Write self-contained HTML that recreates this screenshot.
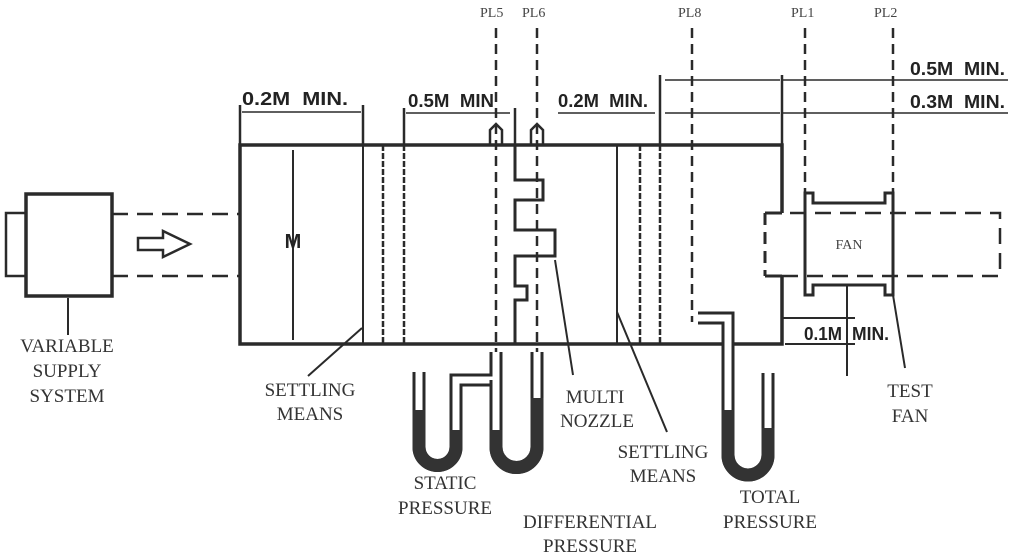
<!DOCTYPE html>
<html><head><meta charset="utf-8"><style>
html,body{margin:0;padding:0;background:#fff;}
svg{display:block;}
.d{font-family:"Liberation Sans",sans-serif;font-weight:bold;font-size:18px;fill:#222;}
.s{font-family:"Liberation Serif",serif;font-size:19px;fill:#333;}
.p{font-family:"Liberation Serif",serif;font-size:14px;fill:#444;}
</style></head><body>
<svg width="1013" height="556" viewBox="0 0 1013 556" xmlns="http://www.w3.org/2000/svg">
<g fill="none" stroke="#2a2a2a" stroke-width="3">
<rect x="26" y="194" width="86" height="102" stroke-width="3.5"/>
<path d="M26 213 H6 V276 H26" stroke-width="2.5"/>
<path d="M112 214 H240 M112 276 H240" stroke-dasharray="16 9" stroke-width="2.5"/>
<path d="M138 238 H163 V231 L190 244 L163 257 V250 H138 Z" stroke-width="2.5"/>
<path d="M68 298 L68 335" stroke-width="2"/>
<path d="M782 213 V145 H240 V344 H782 V276" stroke-width="3.5"/>
<path d="M782 213 H765 M782 276 H765" stroke-width="3"/>
<path d="M765 213 V276" stroke-dasharray="12 7"/>
<path d="M765 213 H1000 V276 H765" stroke-dasharray="16 9" stroke-width="2.5"/>
<path d="M293 150 V340" stroke-width="2"/>
<path d="M363 145 V344" stroke-width="2"/>
<path d="M383 145 V344 M404 145 V344" stroke-dasharray="6 2" stroke-width="2.5"/>
<path d="M617 145 V344" stroke-width="2"/>
<path d="M640 145 V344 M660 145 V344" stroke-dasharray="6 2" stroke-width="2.5"/>
<path d="M240 105 V145 M363 105 V145 M404 108 V145 M515 108 V145 M660 75 V145 M782 75 V145" stroke-width="2.5"/>
<path d="M242 112 H361 M406 113 H510 M558 113 H655 M665 113 H780 M665 80 H780 M782 80 H1008 M782 113 H1008" stroke-width="1.5"/>
<path d="M515 145 V180 H543 V200 H515 V230 H555 V256 H515 V286 H527 V300 H515 V344" stroke-width="3"/>
<path d="M496 28 V358 M537 28 V358 M692 28 V322 M805 28 V193 M893 28 V193" stroke-dasharray="10 6" stroke-width="2.5"/>
<path d="M490 145 V130 L496 124 L502 130 V145 M531 145 V130 L537 124 L543 130 V145" stroke-width="2.5"/>
<path d="M805 193 H813 V203 H885 V193 H893 V295 H885 V285 H813 V295 H805 Z" stroke-width="3"/>
<path d="M847 286 V376" stroke-width="2"/>
<path d="M782 318 H855 M785 344 H855" stroke-width="2"/>
<path d="M362 328 L308 376 M555 260 L573 375 M617 312 L667 432 M893 295 L905 368" stroke-width="2"/>
</g>
<g fill="none" stroke-linecap="butt">
<path d="M698 318 H728 V455 A20 20 0 0 0 768 455 V373" stroke="#2a2a2a" stroke-width="13"/>
<path d="M698 318 H728 V455 A20 20 0 0 0 768 455 V373" stroke="#fff" stroke-width="7"/>
<path d="M728 410 V455 A20 20 0 0 0 768 455 V428" stroke="#333" stroke-width="13"/>
<path d="M419 372 V447 A18.5 18.5 0 0 0 456 447 V380 H496 V352" stroke="#2a2a2a" stroke-width="13"/>
<path d="M419 372 V447 A18.5 18.5 0 0 0 456 447 V380 H496 V352" stroke="#fff" stroke-width="7"/>
<path d="M419 410 V447 A18.5 18.5 0 0 0 456 447 V430" stroke="#333" stroke-width="13"/>
<path d="M496 380 V447 A20.5 20.5 0 0 0 537 447 V352" stroke="#2a2a2a" stroke-width="13"/>
<path d="M496 380 V447 A20.5 20.5 0 0 0 537 447 V352" stroke="#fff" stroke-width="7"/>
<path d="M496 430 V447 A20.5 20.5 0 0 0 537 447 V398" stroke="#333" stroke-width="13"/>
</g>
<text class="d" x="293" y="248" text-anchor="middle" style="font-size:20px">M</text>
<text class="d" x="242" y="105" textLength="106" lengthAdjust="spacingAndGlyphs">0.2M&#160;&#160;MIN.</text>
<text class="d" x="408" y="107" textLength="86" lengthAdjust="spacingAndGlyphs">0.5M&#160;&#160;MIN</text>
<text class="d" x="558" y="107" textLength="90" lengthAdjust="spacingAndGlyphs">0.2M&#160;&#160;MIN.</text>
<text class="d" x="910" y="75" textLength="95" lengthAdjust="spacingAndGlyphs">0.5M&#160;&#160;MIN.</text>
<text class="d" x="910" y="108" textLength="95" lengthAdjust="spacingAndGlyphs">0.3M&#160;&#160;MIN.</text>
<text class="d" x="804" y="340" textLength="38" lengthAdjust="spacingAndGlyphs">0.1M</text><text class="d" x="852" y="340" textLength="37" lengthAdjust="spacingAndGlyphs">MIN.</text>
<text class="p" x="480" y="17">PL5</text><text class="p" x="522" y="17">PL6</text>
<text class="p" x="678" y="17">PL8</text><text class="p" x="791" y="17">PL1</text><text class="p" x="874" y="17">PL2</text>
<text class="p" x="849" y="249" text-anchor="middle" style="font-size:14px">FAN</text>
<g class="s" text-anchor="middle">
<text x="67" y="352">VARIABLE</text><text x="67" y="377">SUPPLY</text><text x="67" y="402">SYSTEM</text>
<text x="310" y="396">SETTLING</text><text x="310" y="420">MEANS</text>
<text x="595" y="403">MULTI</text><text x="597" y="427">NOZZLE</text>
<text x="663" y="458">SETTLING</text><text x="663" y="482">MEANS</text>
<text x="445" y="489">STATIC</text><text x="445" y="514">PRESSURE</text>
<text x="590" y="528">DIFFERENTIAL</text><text x="590" y="552">PRESSURE</text>
<text x="770" y="503">TOTAL</text><text x="770" y="528">PRESSURE</text>
<text x="910" y="397">TEST</text><text x="910" y="422">FAN</text>
</g>
</svg>
</body></html>
